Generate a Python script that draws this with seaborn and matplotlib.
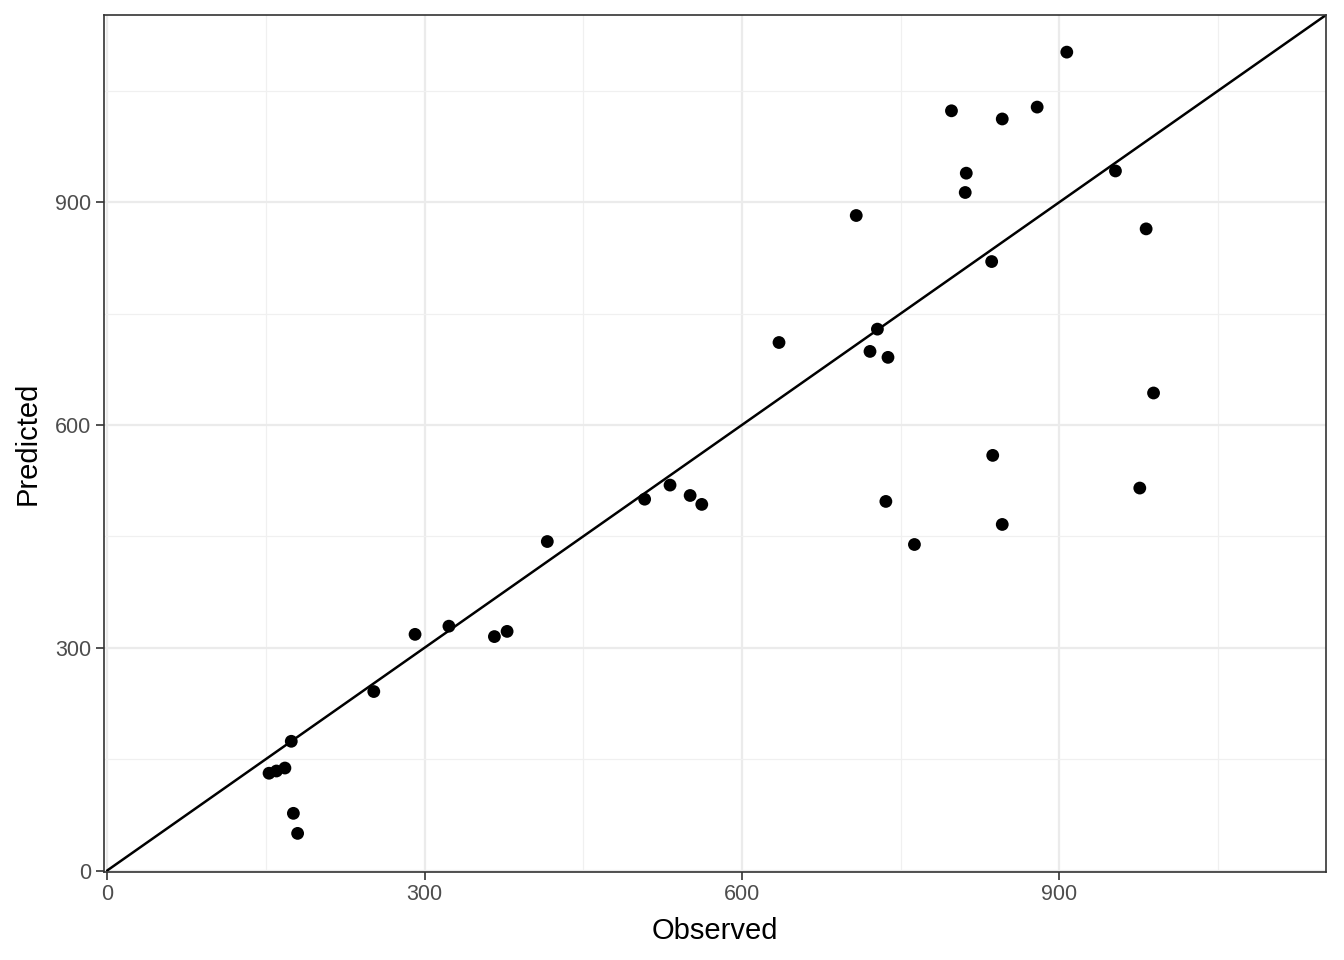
import numpy as np
import pandas as pd
import matplotlib.pyplot as plt
import seaborn as sns
from matplotlib.ticker import MultipleLocator

observed = [153, 160, 168, 174, 176, 180, 252, 291, 323, 366, 378, 416,
            508, 532, 551, 562, 635, 708, 721, 728, 738, 736, 763, 798,
            812, 811, 836, 837, 846, 846, 879, 907, 953, 982, 976, 989]
predicted = [131, 134, 138, 174, 77, 50, 241, 318, 329, 315, 322, 443,
             500, 519, 505, 493, 711, 882, 699, 729, 691, 497, 439, 1023,
             939, 913, 820, 559, 1012, 466, 1028, 1102, 942, 864, 515, 643]

df = pd.DataFrame({"Observed": observed, "Predicted": predicted})
lim = 1152

sns.set_style("white")
plt.rcParams["font.family"] = ["Liberation Sans", "DejaVu Sans"]

fig = plt.figure(figsize=(13.44, 9.6), dpi=100)
ax = fig.add_axes([104 / 1344, 1 - 872 / 960, (1326 - 104) / 1344, (872 - 15) / 960])

ax.xaxis.set_major_locator(MultipleLocator(300))
ax.yaxis.set_major_locator(MultipleLocator(300))
ax.xaxis.set_minor_locator(MultipleLocator(150))
ax.yaxis.set_minor_locator(MultipleLocator(150))
ax.grid(True, which="major", color="#ebebeb", lw=1.6)
ax.grid(True, which="minor", color="#f0f0f0", lw=0.9)
ax.set_axisbelow(True)

ax.plot([0, lim], [0, lim], color="black", lw=1.8, zorder=2)
sns.scatterplot(data=df, x="Observed", y="Predicted", ax=ax, color="black",
                s=85, edgecolor="none", zorder=3)

ax.set_xlim(-3, lim)
ax.set_ylim(-2, lim)
for s in ax.spines.values():
    s.set_color("#333333")
    s.set_linewidth(1.2)
ax.tick_params(axis="both", which="major", length=6, width=1.2, color="#333333",
               labelsize=15.5, labelcolor="#4d4d4d", direction="out", bottom=True, left=True,
               pad=3)
ax.tick_params(axis="both", which="minor", length=0)
ax.set_xlabel("Observed", fontsize=21, labelpad=8, color="black")
ax.set_ylabel("Predicted", fontsize=21, labelpad=10, color="black")

fig.savefig("out.png", dpi=100)
